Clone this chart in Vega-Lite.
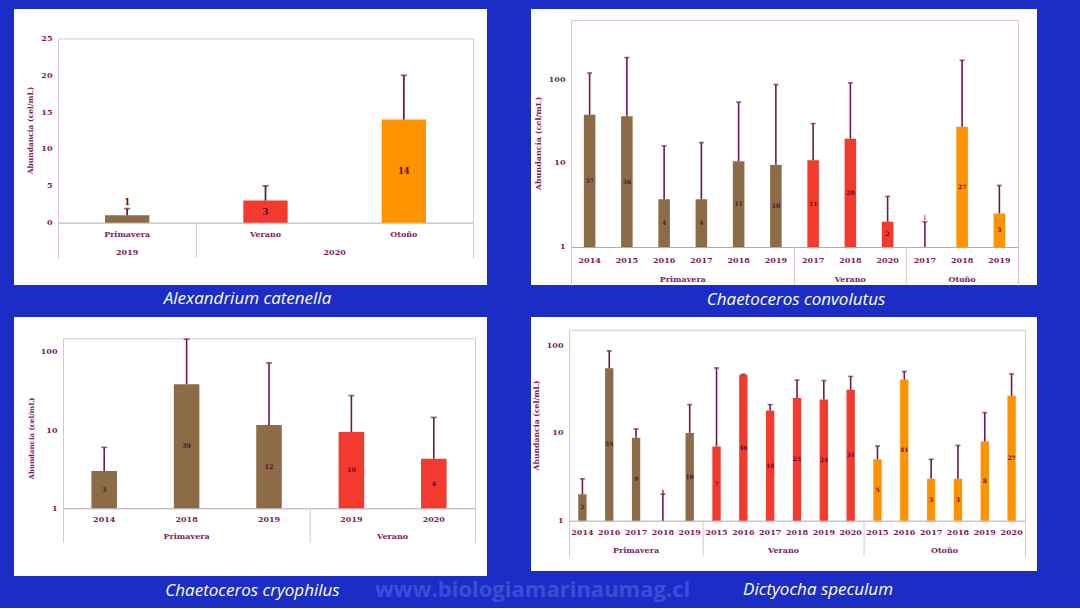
{
  "$schema": "https://vega.github.io/schema/vega-lite/v6.json",
  "background": "#1b2dc5",
  "padding": {"left": 14, "top": 9, "right": 43, "bottom": 7},
  "config": {
    "view": {"stroke": null},
    "title": {"orient": "bottom", "color": "white", "font": "Open Sans", "fontStyle": "italic", "fontWeight": "normal", "fontSize": 17, "offset": 6, "anchor": "middle"},
    "axis": {"labelFont": "DejaVu Serif", "labelFontWeight": "bold", "labelFontSize": 8, "labelColor": "#7b1b5d", "titleFont": "DejaVu Serif", "titleFontWeight": "bold", "titleFontSize": 8, "titleColor": "#7b1b5d", "ticks": false, "tickSize": 0, "grid": false, "domainColor": "#dcc3da", "domainWidth": 1, "labelPadding": 6, "titlePadding": 6}
  },
  "title": {"text": "www.biologiamarinaumag.cl", "orient": "bottom", "anchor": "start", "frame": "bounds", "dx": 361, "offset": -19, "fontSize": 22, "font": "Open Sans", "fontStyle": "normal", "fontWeight": "bold", "color": "#3650d8"},
  "datasets": {
    "a": [
      {"key": "Primavera", "season": "Primavera", "value": 1, "hi": 1.9, "label": "1"},
      {"key": "Verano", "season": "Verano", "value": 3, "hi": 5, "label": "3"},
      {"key": "Otoño", "season": "Otoño", "value": 14, "hi": 20, "label": "14"}
    ],
    "aGroups": [
      {"label": "2019", "anchor": "Primavera", "even": false},
      {"label": "2020", "anchor": "Otoño", "even": true}
    ],
    "aSep": [{"key": "Verano"}],
    "b": [
      {"key": "Primavera 2014", "season": "Primavera", "value": 37.5, "hi": 118, "label": "37"},
      {"key": "Primavera 2015", "season": "Primavera", "value": 36, "hi": 180, "label": "36"},
      {"key": "Primavera 2016", "season": "Primavera", "value": 3.7, "hi": 16, "label": "4"},
      {"key": "Primavera 2017", "season": "Primavera", "value": 3.7, "hi": 17.5, "label": "4"},
      {"key": "Primavera 2018", "season": "Primavera", "value": 10.5, "hi": 53, "label": "11"},
      {"key": "Primavera 2019", "season": "Primavera", "value": 9.5, "hi": 86, "label": "10"},
      {"key": "Verano 2017", "season": "Verano", "value": 10.8, "hi": 29.5, "label": "11"},
      {"key": "Verano 2018", "season": "Verano", "value": 19.5, "hi": 90, "label": "20"},
      {"key": "Verano 2020", "season": "Verano", "value": 2, "hi": 4, "label": "2"},
      {"key": "Otoño 2017", "season": "Otoño", "value": 1, "hi": 2, "label": "1"},
      {"key": "Otoño 2018", "season": "Otoño", "value": 27, "hi": 167, "label": "27"},
      {"key": "Otoño 2019", "season": "Otoño", "value": 2.5, "hi": 5.4, "label": "3"}
    ],
    "bGroups": [
      {"label": "Primavera", "anchor": "Primavera 2017", "even": true},
      {"label": "Verano", "anchor": "Verano 2018", "even": false},
      {"label": "Otoño", "anchor": "Otoño 2018", "even": false}
    ],
    "bSep": [{"key": "Verano 2017"}, {"key": "Otoño 2017"}],
    "c": [
      {"key": "Primavera 2014", "season": "Primavera", "value": 3, "hi": 6, "label": "3"},
      {"key": "Primavera 2018", "season": "Primavera", "value": 38.5, "hi": 145, "label": "39"},
      {"key": "Primavera 2019", "season": "Primavera", "value": 11.6, "hi": 72, "label": "12"},
      {"key": "Verano 2019", "season": "Verano", "value": 9.4, "hi": 27.5, "label": "10"},
      {"key": "Verano 2020", "season": "Verano", "value": 4.3, "hi": 14.5, "label": "4"}
    ],
    "cGroups": [
      {"label": "Primavera", "anchor": "Primavera 2018", "even": false},
      {"label": "Verano", "anchor": "Verano 2020", "even": true}
    ],
    "cSep": [{"key": "Verano 2019"}],
    "d": [
      {"key": "Primavera 2014", "season": "Primavera", "value": 2, "hi": 3, "label": "2"},
      {"key": "Primavera 2016", "season": "Primavera", "value": 54.5, "hi": 86, "label": "55"},
      {"key": "Primavera 2017", "season": "Primavera", "value": 8.8, "hi": 11.1, "label": "9"},
      {"key": "Primavera 2018", "season": "Primavera", "value": 1, "hi": 2, "label": "1"},
      {"key": "Primavera 2019", "season": "Primavera", "value": 10, "hi": 21, "label": "10"},
      {"key": "Verano 2015", "season": "Verano", "value": 7, "hi": 55, "label": "7"},
      {"key": "Verano 2016", "season": "Verano", "value": 46, "hi": 46.5, "label": "46"},
      {"key": "Verano 2017", "season": "Verano", "value": 18, "hi": 21, "label": "18"},
      {"key": "Verano 2018", "season": "Verano", "value": 25, "hi": 40, "label": "25"},
      {"key": "Verano 2019", "season": "Verano", "value": 24, "hi": 39.5, "label": "24"},
      {"key": "Verano 2020", "season": "Verano", "value": 31, "hi": 44, "label": "31"},
      {"key": "Otoño 2015", "season": "Otoño", "value": 5, "hi": 7.1, "label": "5"},
      {"key": "Otoño 2016", "season": "Otoño", "value": 40.5, "hi": 50, "label": "41"},
      {"key": "Otoño 2017", "season": "Otoño", "value": 3, "hi": 5, "label": "3"},
      {"key": "Otoño 2018", "season": "Otoño", "value": 3, "hi": 7.2, "label": "3"},
      {"key": "Otoño 2019", "season": "Otoño", "value": 8, "hi": 17, "label": "8"},
      {"key": "Otoño 2020", "season": "Otoño", "value": 26.5, "hi": 47, "label": "27"}
    ],
    "dGroups": [
      {"label": "Primavera", "anchor": "Primavera 2017", "even": false},
      {"label": "Verano", "anchor": "Verano 2018", "even": true},
      {"label": "Otoño", "anchor": "Otoño 2018", "even": true}
    ],
    "dSep": [{"key": "Verano 2015"}, {"key": "Otoño 2015"}]
  },
  "spacing": 9,
  "vconcat": [
    {
      "spacing": 44,
      "hconcat": [
        {
          "width": 473, "height": 276,
          "view": {"fill": "white", "stroke": null},
          "title": {"text": "Alexandrium catenella", "dx": -3},
          "resolve": {"scale": {"y": "independent"}, "axis": {"x": "independent", "y": "independent"}},
          "layer": [
            {
              "data": {"name": "aSep"},
              "mark": {"type": "rule", "color": "#dcc3da", "strokeWidth": 1},
              "encoding": {
                "x": {"field": "key", "type": "nominal", "bandPosition": 0, "scale": {"domain": ["Primavera", "Verano", "Otoño"], "range": [44, 459], "paddingInner": 0, "paddingOuter": 0}, "axis": {"orient": "top", "offset": -29.5, "labels": false, "title": null}},
                "y": {"datum": 0, "type": "quantitative", "scale": {"type": "linear", "domain": [-4.8, 25], "range": [249, 29.5], "zero": false, "nice": false}, "axis": {"orient": "right", "offset": -14, "labels": false, "title": null}},
                "y2": {"datum": -4.8}
              }
            },
            {
              "data": {"name": "a"},
              "mark": {"type": "bar", "width": {"band": 0.32}},
              "encoding": {
                "x": {"field": "key", "type": "nominal", "sort": null, "scale": {"domain": ["Primavera", "Verano", "Otoño"], "range": [44, 459], "paddingInner": 0, "paddingOuter": 0}, "axis": {"orient": "bottom", "offset": -62.4, "title": null, "labelAngle": 0, "labelPadding": 8, "domainColor": "#b5a3b6"}},
                "y": {"field": "value", "type": "quantitative", "scale": {"type": "linear", "domain": [-4.8, 25], "range": [249, 29.5], "zero": false, "nice": false}, "axis": {"orient": "left", "offset": -44, "values": [0, 5, 10, 15, 20, 25], "title": "Abundancia (cel/mL)", "titleFontSize": 7.5, "titleY": 121}},
                "y2": {"datum": 0},
                "color": {"field": "season", "type": "nominal", "scale": {"domain": ["Primavera", "Verano", "Otoño"], "range": ["#8c6b47", "#f23a2e", "#ff9200"]}, "legend": null}
              }
            },
            {
              "data": {"name": "a"},
              "mark": {"type": "rule", "color": "#6a1a4f", "strokeWidth": 1.8},
              "encoding": {
                "x": {"field": "key", "type": "nominal", "scale": {"domain": ["Primavera", "Verano", "Otoño"], "range": [44, 459], "paddingInner": 0, "paddingOuter": 0}, "axis": null},
                "y": {"field": "value", "type": "quantitative", "scale": {"type": "linear", "domain": [-4.8, 25], "range": [249, 29.5], "zero": false, "nice": false}, "axis": null},
                "y2": {"field": "hi"}
              }
            },
            {
              "data": {"name": "a"},
              "mark": {"type": "tick", "color": "#6a1a4f", "size": 6, "thickness": 1.8},
              "encoding": {
                "x": {"field": "key", "type": "nominal", "scale": {"domain": ["Primavera", "Verano", "Otoño"], "range": [44, 459], "paddingInner": 0, "paddingOuter": 0}, "axis": null},
                "y": {"field": "hi", "type": "quantitative", "scale": {"type": "linear", "domain": [-4.8, 25], "range": [249, 29.5], "zero": false, "nice": false}, "axis": null}
              }
            },
            {
              "data": {"name": "a"},
              "transform": [{"filter": "datum.value > 1.5"}],
              "mark": {"type": "text", "font": "DejaVu Serif", "fontWeight": "bold", "fontSize": 8.5, "color": "#5b0b2b"},
              "encoding": {
                "x": {"field": "key", "type": "nominal", "scale": {"domain": ["Primavera", "Verano", "Otoño"], "range": [44, 459], "paddingInner": 0, "paddingOuter": 0}, "axis": null},
                "y": {"field": "value", "type": "quantitative", "scale": {"type": "linear", "domain": [-9.6, 50], "range": [249, 29.5], "zero": false, "nice": false}, "axis": null},
                "text": {"field": "label"}
              }
            },
            {
              "data": {"name": "a"},
              "transform": [{"filter": "datum.value <= 1.5"}],
              "mark": {"type": "text", "font": "DejaVu Serif", "fontWeight": "bold", "fontSize": 8.5, "color": "#5b0b2b", "baseline": "bottom", "dy": -2},
              "encoding": {
                "x": {"field": "key", "type": "nominal", "scale": {"domain": ["Primavera", "Verano", "Otoño"], "range": [44, 459], "paddingInner": 0, "paddingOuter": 0}, "axis": null},
                "y": {"field": "hi", "type": "quantitative", "scale": {"type": "linear", "domain": [-4.8, 25], "range": [249, 29.5], "zero": false, "nice": false}, "axis": null},
                "text": {"field": "label"}
              }
            },
            {
              "data": {"name": "aGroups"},
              "transform": [{"filter": "!datum.even"}],
              "mark": {"type": "text", "font": "DejaVu Serif", "fontWeight": "bold", "fontSize": 8, "color": "#7b1b5d"},
              "encoding": {
                "x": {"field": "anchor", "type": "nominal", "scale": {"domain": ["Primavera", "Verano", "Otoño"], "range": [44, 459], "paddingInner": 0, "paddingOuter": 0}, "axis": null},
                "y": {"datum": -4.12, "type": "quantitative", "scale": {"type": "linear", "domain": [-4.8, 25], "range": [249, 29.5], "zero": false, "nice": false}, "axis": null},
                "text": {"field": "label"}
              }
            },
            {
              "data": {"name": "aGroups"},
              "transform": [{"filter": "datum.even"}],
              "mark": {"type": "text", "font": "DejaVu Serif", "fontWeight": "bold", "fontSize": 8, "color": "#7b1b5d"},
              "encoding": {
                "x": {"field": "anchor", "type": "nominal", "bandPosition": 0, "scale": {"domain": ["Primavera", "Verano", "Otoño"], "range": [44, 459], "paddingInner": 0, "paddingOuter": 0}, "axis": null},
                "y": {"datum": -4.12, "type": "quantitative", "scale": {"type": "linear", "domain": [-4.8, 25], "range": [249, 29.5], "zero": false, "nice": false}, "axis": null},
                "text": {"field": "label"}
              }
            }
          ]
        },
        {
          "width": 506, "height": 276,
          "view": {"fill": "white", "stroke": null},
          "title": {"text": "Chaetoceros convolutus", "dx": 12},
          "resolve": {"scale": {"y": "independent"}, "axis": {"x": "independent", "y": "independent"}},
          "layer": [
            {
              "data": {"name": "bSep"},
              "mark": {"type": "rule", "color": "#dcc3da", "strokeWidth": 1},
              "encoding": {
                "x": {"field": "key", "type": "nominal", "bandPosition": 0, "scale": {"domain": ["Primavera 2014", "Primavera 2015", "Primavera 2016", "Primavera 2017", "Primavera 2018", "Primavera 2019", "Verano 2017", "Verano 2018", "Verano 2020", "Otoño 2017", "Otoño 2018", "Otoño 2019"], "range": [40, 487], "paddingInner": 0, "paddingOuter": 0}, "axis": {"orient": "top", "offset": -11, "labels": false, "title": null}},
                "y": {"datum": 1, "type": "quantitative", "scale": {"type": "log", "domain": [0.3528, 504], "range": [276, 11], "nice": false}, "axis": {"orient": "right", "offset": -19, "labels": false, "title": null}},
                "y2": {"datum": 0.3528}
              }
            },
            {
              "data": {"name": "b"},
              "mark": {"type": "bar", "width": {"band": 0.31}},
              "encoding": {
                "x": {"field": "key", "type": "nominal", "sort": null, "scale": {"domain": ["Primavera 2014", "Primavera 2015", "Primavera 2016", "Primavera 2017", "Primavera 2018", "Primavera 2019", "Verano 2017", "Verano 2018", "Verano 2020", "Otoño 2017", "Otoño 2018", "Otoño 2019"], "range": [40, 487], "paddingInner": 0, "paddingOuter": 0}, "axis": {"orient": "bottom", "offset": -38, "title": null, "labelAngle": 0, "labelPadding": 9, "labelExpr": "split(datum.value, ' ')[1]", "domainColor": "#b5a3b6"}},
                "y": {"field": "value", "type": "quantitative", "scale": {"type": "log", "domain": [0.3528, 504], "range": [276, 11], "nice": false}, "axis": {"orient": "left", "offset": -40, "values": [1, 10, 100], "format": "d", "title": "Abundancia (cel/mL)", "titleY": 134}},
                "y2": {"datum": 1},
                "color": {"field": "season", "type": "nominal", "scale": {"domain": ["Primavera", "Verano", "Otoño"], "range": ["#8c6b47", "#f23a2e", "#ff9200"]}, "legend": null}
              }
            },
            {
              "data": {"name": "b"},
              "mark": {"type": "rule", "color": "#6a1a4f", "strokeWidth": 1.6},
              "encoding": {
                "x": {"field": "key", "type": "nominal", "scale": {"domain": ["Primavera 2014", "Primavera 2015", "Primavera 2016", "Primavera 2017", "Primavera 2018", "Primavera 2019", "Verano 2017", "Verano 2018", "Verano 2020", "Otoño 2017", "Otoño 2018", "Otoño 2019"], "range": [40, 487], "paddingInner": 0, "paddingOuter": 0}, "axis": null},
                "y": {"field": "value", "type": "quantitative", "scale": {"type": "log", "domain": [0.3528, 504], "range": [276, 11], "nice": false}, "axis": null},
                "y2": {"field": "hi"}
              }
            },
            {
              "data": {"name": "b"},
              "mark": {"type": "tick", "color": "#6a1a4f", "size": 5, "thickness": 1.6},
              "encoding": {
                "x": {"field": "key", "type": "nominal", "scale": {"domain": ["Primavera 2014", "Primavera 2015", "Primavera 2016", "Primavera 2017", "Primavera 2018", "Primavera 2019", "Verano 2017", "Verano 2018", "Verano 2020", "Otoño 2017", "Otoño 2018", "Otoño 2019"], "range": [40, 487], "paddingInner": 0, "paddingOuter": 0}, "axis": null},
                "y": {"field": "hi", "type": "quantitative", "scale": {"type": "log", "domain": [0.3528, 504], "range": [276, 11], "nice": false}, "axis": null}
              }
            },
            {
              "data": {"name": "b"},
              "transform": [{"filter": "datum.value > 1.5"}],
              "mark": {"type": "text", "font": "DejaVu Serif", "fontWeight": "bold", "fontSize": 6, "color": "#5b0b2b"},
              "encoding": {
                "x": {"field": "key", "type": "nominal", "scale": {"domain": ["Primavera 2014", "Primavera 2015", "Primavera 2016", "Primavera 2017", "Primavera 2018", "Primavera 2019", "Verano 2017", "Verano 2018", "Verano 2020", "Otoño 2017", "Otoño 2018", "Otoño 2019"], "range": [40, 487], "paddingInner": 0, "paddingOuter": 0}, "axis": null},
                "y": {"field": "value", "type": "quantitative", "scale": {"type": "log", "domain": [0.1245, 254016], "range": [276, 11], "nice": false}, "axis": null},
                "text": {"field": "label"}
              }
            },
            {
              "data": {"name": "b"},
              "transform": [{"filter": "datum.value <= 1.5"}],
              "mark": {"type": "text", "font": "DejaVu Serif", "fontSize": 6.5, "color": "#5b0b2b", "baseline": "bottom", "dy": -1},
              "encoding": {
                "x": {"field": "key", "type": "nominal", "scale": {"domain": ["Primavera 2014", "Primavera 2015", "Primavera 2016", "Primavera 2017", "Primavera 2018", "Primavera 2019", "Verano 2017", "Verano 2018", "Verano 2020", "Otoño 2017", "Otoño 2018", "Otoño 2019"], "range": [40, 487], "paddingInner": 0, "paddingOuter": 0}, "axis": null},
                "y": {"field": "hi", "type": "quantitative", "scale": {"type": "log", "domain": [0.3528, 504], "range": [276, 11], "nice": false}, "axis": null},
                "text": {"field": "label"}
              }
            },
            {
              "data": {"name": "bGroups"},
              "transform": [{"filter": "!datum.even"}],
              "mark": {"type": "text", "font": "DejaVu Serif", "fontWeight": "bold", "fontSize": 8, "color": "#7b1b5d"},
              "encoding": {
                "x": {"field": "anchor", "type": "nominal", "scale": {"domain": ["Primavera 2014", "Primavera 2015", "Primavera 2016", "Primavera 2017", "Primavera 2018", "Primavera 2019", "Verano 2017", "Verano 2018", "Verano 2020", "Otoño 2017", "Otoño 2018", "Otoño 2019"], "range": [40, 487], "paddingInner": 0, "paddingOuter": 0}, "axis": null},
                "y": {"datum": 0.405, "type": "quantitative", "scale": {"type": "log", "domain": [0.3528, 504], "range": [276, 11], "nice": false}, "axis": null},
                "text": {"field": "label"}
              }
            },
            {
              "data": {"name": "bGroups"},
              "transform": [{"filter": "datum.even"}],
              "mark": {"type": "text", "font": "DejaVu Serif", "fontWeight": "bold", "fontSize": 8, "color": "#7b1b5d"},
              "encoding": {
                "x": {"field": "anchor", "type": "nominal", "bandPosition": 0, "scale": {"domain": ["Primavera 2014", "Primavera 2015", "Primavera 2016", "Primavera 2017", "Primavera 2018", "Primavera 2019", "Verano 2017", "Verano 2018", "Verano 2020", "Otoño 2017", "Otoño 2018", "Otoño 2019"], "range": [40, 487], "paddingInner": 0, "paddingOuter": 0}, "axis": null},
                "y": {"datum": 0.405, "type": "quantitative", "scale": {"type": "log", "domain": [0.3528, 504], "range": [276, 11], "nice": false}, "axis": null},
                "text": {"field": "label"}
              }
            }
          ]
        }
      ]
    },
    {
      "spacing": 44,
      "hconcat": [
        {
          "width": 473, "height": 259,
          "view": {"fill": "white", "stroke": null},
          "title": {"text": "Chaetoceros cryophilus", "dx": 2, "offset": 6.5},
          "resolve": {"scale": {"y": "independent"}, "axis": {"x": "independent", "y": "independent"}},
          "layer": [
            {
              "data": {"name": "cSep"},
              "mark": {"type": "rule", "color": "#dcc3da", "strokeWidth": 1},
              "encoding": {
                "x": {"field": "key", "type": "nominal", "bandPosition": 0, "scale": {"domain": ["Primavera 2014", "Primavera 2018", "Primavera 2019", "Verano 2019", "Verano 2020"], "range": [49, 461], "paddingInner": 0, "paddingOuter": 0}, "axis": {"orient": "top", "offset": -21.3, "labels": false, "title": null}},
                "y": {"datum": 1, "type": "quantitative", "scale": {"type": "log", "domain": [0.368, 148.3], "range": [225.3, 21.3], "nice": false}, "axis": {"orient": "right", "offset": -12, "labels": false, "title": null}},
                "y2": {"datum": 0.368}
              }
            },
            {
              "data": {"name": "c"},
              "mark": {"type": "bar", "width": {"band": 0.31}},
              "encoding": {
                "x": {"field": "key", "type": "nominal", "sort": null, "scale": {"domain": ["Primavera 2014", "Primavera 2018", "Primavera 2019", "Verano 2019", "Verano 2020"], "range": [49, 461], "paddingInner": 0, "paddingOuter": 0}, "axis": {"orient": "bottom", "offset": -67.7, "title": null, "labelAngle": 0, "labelPadding": 7, "labelExpr": "split(datum.value, ' ')[1]", "domainColor": "#b5a3b6"}},
                "y": {"field": "value", "type": "quantitative", "scale": {"type": "log", "domain": [0.368, 148.3], "range": [225.3, 21.3], "nice": false}, "axis": {"orient": "left", "offset": -49, "values": [1, 10, 100], "format": "d", "title": "Abundancia (cel/mL)", "titleFontSize": 7, "titleY": 121}},
                "y2": {"datum": 1},
                "color": {"field": "season", "type": "nominal", "scale": {"domain": ["Primavera", "Verano", "Otoño"], "range": ["#8c6b47", "#f23a2e", "#ff9200"]}, "legend": null}
              }
            },
            {
              "data": {"name": "c"},
              "mark": {"type": "rule", "color": "#6a1a4f", "strokeWidth": 1.6},
              "encoding": {
                "x": {"field": "key", "type": "nominal", "scale": {"domain": ["Primavera 2014", "Primavera 2018", "Primavera 2019", "Verano 2019", "Verano 2020"], "range": [49, 461], "paddingInner": 0, "paddingOuter": 0}, "axis": null},
                "y": {"field": "value", "type": "quantitative", "scale": {"type": "log", "domain": [0.368, 148.3], "range": [225.3, 21.3], "nice": false}, "axis": null},
                "y2": {"field": "hi"}
              }
            },
            {
              "data": {"name": "c"},
              "mark": {"type": "tick", "color": "#6a1a4f", "size": 6, "thickness": 1.6},
              "encoding": {
                "x": {"field": "key", "type": "nominal", "scale": {"domain": ["Primavera 2014", "Primavera 2018", "Primavera 2019", "Verano 2019", "Verano 2020"], "range": [49, 461], "paddingInner": 0, "paddingOuter": 0}, "axis": null},
                "y": {"field": "hi", "type": "quantitative", "scale": {"type": "log", "domain": [0.368, 148.3], "range": [225.3, 21.3], "nice": false}, "axis": null}
              }
            },
            {
              "data": {"name": "c"},
              "mark": {"type": "text", "font": "DejaVu Serif", "fontWeight": "bold", "fontSize": 6.5, "color": "#5b0b2b"},
              "encoding": {
                "x": {"field": "key", "type": "nominal", "scale": {"domain": ["Primavera 2014", "Primavera 2018", "Primavera 2019", "Verano 2019", "Verano 2020"], "range": [49, 461], "paddingInner": 0, "paddingOuter": 0}, "axis": null},
                "y": {"field": "value", "type": "quantitative", "scale": {"type": "log", "domain": [0.1354, 21993], "range": [225.3, 21.3], "nice": false}, "axis": null},
                "text": {"field": "label"}
              }
            },
            {
              "data": {"name": "cGroups"},
              "transform": [{"filter": "!datum.even"}],
              "mark": {"type": "text", "font": "DejaVu Serif", "fontWeight": "bold", "fontSize": 8, "color": "#7b1b5d"},
              "encoding": {
                "x": {"field": "anchor", "type": "nominal", "scale": {"domain": ["Primavera 2014", "Primavera 2018", "Primavera 2019", "Verano 2019", "Verano 2020"], "range": [49, 461], "paddingInner": 0, "paddingOuter": 0}, "axis": null},
                "y": {"datum": 0.426, "type": "quantitative", "scale": {"type": "log", "domain": [0.368, 148.3], "range": [225.3, 21.3], "nice": false}, "axis": null},
                "text": {"field": "label"}
              }
            },
            {
              "data": {"name": "cGroups"},
              "transform": [{"filter": "datum.even"}],
              "mark": {"type": "text", "font": "DejaVu Serif", "fontWeight": "bold", "fontSize": 8, "color": "#7b1b5d"},
              "encoding": {
                "x": {"field": "anchor", "type": "nominal", "bandPosition": 0, "scale": {"domain": ["Primavera 2014", "Primavera 2018", "Primavera 2019", "Verano 2019", "Verano 2020"], "range": [49, 461], "paddingInner": 0, "paddingOuter": 0}, "axis": null},
                "y": {"datum": 0.426, "type": "quantitative", "scale": {"type": "log", "domain": [0.368, 148.3], "range": [225.3, 21.3], "nice": false}, "axis": null},
                "text": {"field": "label"}
              }
            }
          ]
        },
        {
          "width": 506, "height": 254,
          "view": {"fill": "white", "stroke": null},
          "title": {"text": "Dictyocha speculum", "dx": 34, "offset": 10.5},
          "resolve": {"scale": {"y": "independent"}, "axis": {"x": "independent", "y": "independent"}},
          "layer": [
            {
              "data": {"name": "dSep"},
              "mark": {"type": "rule", "color": "#dcc3da", "strokeWidth": 1},
              "encoding": {
                "x": {"field": "key", "type": "nominal", "bandPosition": 0, "scale": {"domain": ["Primavera 2014", "Primavera 2016", "Primavera 2017", "Primavera 2018", "Primavera 2019", "Verano 2015", "Verano 2016", "Verano 2017", "Verano 2018", "Verano 2019", "Verano 2020", "Otoño 2015", "Otoño 2016", "Otoño 2017", "Otoño 2018", "Otoño 2019", "Otoño 2020"], "range": [38, 494], "paddingInner": 0, "paddingOuter": 0}, "axis": {"orient": "top", "offset": -12.7, "labels": false, "title": null}},
                "y": {"datum": 1, "type": "quantitative", "scale": {"type": "log", "domain": [0.393, 149.8], "range": [239.3, 12.7], "nice": false}, "axis": {"orient": "right", "offset": -12, "labels": false, "title": null}},
                "y2": {"datum": 0.393}
              }
            },
            {
              "data": {"name": "d"},
              "mark": {"type": "bar", "width": {"band": 0.31}},
              "encoding": {
                "x": {"field": "key", "type": "nominal", "sort": null, "scale": {"domain": ["Primavera 2014", "Primavera 2016", "Primavera 2017", "Primavera 2018", "Primavera 2019", "Verano 2015", "Verano 2016", "Verano 2017", "Verano 2018", "Verano 2019", "Verano 2020", "Otoño 2015", "Otoño 2016", "Otoño 2017", "Otoño 2018", "Otoño 2019", "Otoño 2020"], "range": [38, 494], "paddingInner": 0, "paddingOuter": 0}, "axis": {"orient": "bottom", "offset": -50.3, "title": null, "labelAngle": 0, "labelPadding": 7.5, "labelExpr": "split(datum.value, ' ')[1]", "domainColor": "#b5a3b6"}},
                "y": {"field": "value", "type": "quantitative", "scale": {"type": "log", "domain": [0.393, 149.8], "range": [239.3, 12.7], "nice": false}, "axis": {"orient": "left", "offset": -38, "values": [1, 10, 100], "format": "d", "title": "Abundancia (cel/mL)", "titleFontSize": 7.7, "titleY": 108}},
                "y2": {"datum": 1},
                "color": {"field": "season", "type": "nominal", "scale": {"domain": ["Primavera", "Verano", "Otoño"], "range": ["#8c6b47", "#f23a2e", "#ff9200"]}, "legend": null}
              }
            },
            {
              "data": {"name": "d"},
              "mark": {"type": "rule", "color": "#6a1a4f", "strokeWidth": 1.6},
              "encoding": {
                "x": {"field": "key", "type": "nominal", "scale": {"domain": ["Primavera 2014", "Primavera 2016", "Primavera 2017", "Primavera 2018", "Primavera 2019", "Verano 2015", "Verano 2016", "Verano 2017", "Verano 2018", "Verano 2019", "Verano 2020", "Otoño 2015", "Otoño 2016", "Otoño 2017", "Otoño 2018", "Otoño 2019", "Otoño 2020"], "range": [38, 494], "paddingInner": 0, "paddingOuter": 0}, "axis": null},
                "y": {"field": "value", "type": "quantitative", "scale": {"type": "log", "domain": [0.393, 149.8], "range": [239.3, 12.7], "nice": false}, "axis": null},
                "y2": {"field": "hi"}
              }
            },
            {
              "data": {"name": "d"},
              "mark": {"type": "tick", "color": "#6a1a4f", "size": 5, "thickness": 1.6},
              "encoding": {
                "x": {"field": "key", "type": "nominal", "scale": {"domain": ["Primavera 2014", "Primavera 2016", "Primavera 2017", "Primavera 2018", "Primavera 2019", "Verano 2015", "Verano 2016", "Verano 2017", "Verano 2018", "Verano 2019", "Verano 2020", "Otoño 2015", "Otoño 2016", "Otoño 2017", "Otoño 2018", "Otoño 2019", "Otoño 2020"], "range": [38, 494], "paddingInner": 0, "paddingOuter": 0}, "axis": null},
                "y": {"field": "hi", "type": "quantitative", "scale": {"type": "log", "domain": [0.393, 149.8], "range": [239.3, 12.7], "nice": false}, "axis": null}
              }
            },
            {
              "data": {"name": "d"},
              "transform": [{"filter": "datum.value > 1.5"}],
              "mark": {"type": "text", "font": "DejaVu Serif", "fontWeight": "bold", "fontSize": 6, "color": "#5b0b2b"},
              "encoding": {
                "x": {"field": "key", "type": "nominal", "scale": {"domain": ["Primavera 2014", "Primavera 2016", "Primavera 2017", "Primavera 2018", "Primavera 2019", "Verano 2015", "Verano 2016", "Verano 2017", "Verano 2018", "Verano 2019", "Verano 2020", "Otoño 2015", "Otoño 2016", "Otoño 2017", "Otoño 2018", "Otoño 2019", "Otoño 2020"], "range": [38, 494], "paddingInner": 0, "paddingOuter": 0}, "axis": null},
                "y": {"field": "value", "type": "quantitative", "scale": {"type": "log", "domain": [0.1544, 22440], "range": [239.3, 12.7], "nice": false}, "axis": null},
                "text": {"field": "label"}
              }
            },
            {
              "data": {"name": "d"},
              "transform": [{"filter": "datum.value <= 1.5"}],
              "mark": {"type": "text", "font": "DejaVu Serif", "fontWeight": "bold", "fontSize": 5.5, "color": "#5b0b2b", "baseline": "bottom", "dy": 1},
              "encoding": {
                "x": {"field": "key", "type": "nominal", "scale": {"domain": ["Primavera 2014", "Primavera 2016", "Primavera 2017", "Primavera 2018", "Primavera 2019", "Verano 2015", "Verano 2016", "Verano 2017", "Verano 2018", "Verano 2019", "Verano 2020", "Otoño 2015", "Otoño 2016", "Otoño 2017", "Otoño 2018", "Otoño 2019", "Otoño 2020"], "range": [38, 494], "paddingInner": 0, "paddingOuter": 0}, "axis": null},
                "y": {"field": "hi", "type": "quantitative", "scale": {"type": "log", "domain": [0.393, 149.8], "range": [239.3, 12.7], "nice": false}, "axis": null},
                "text": {"field": "label"}
              }
            },
            {
              "data": {"name": "dGroups"},
              "transform": [{"filter": "!datum.even"}],
              "mark": {"type": "text", "font": "DejaVu Serif", "fontWeight": "bold", "fontSize": 8, "color": "#7b1b5d"},
              "encoding": {
                "x": {"field": "anchor", "type": "nominal", "scale": {"domain": ["Primavera 2014", "Primavera 2016", "Primavera 2017", "Primavera 2018", "Primavera 2019", "Verano 2015", "Verano 2016", "Verano 2017", "Verano 2018", "Verano 2019", "Verano 2020", "Otoño 2015", "Otoño 2016", "Otoño 2017", "Otoño 2018", "Otoño 2019", "Otoño 2020"], "range": [38, 494], "paddingInner": 0, "paddingOuter": 0}, "axis": null},
                "y": {"datum": 0.455, "type": "quantitative", "scale": {"type": "log", "domain": [0.393, 149.8], "range": [239.3, 12.7], "nice": false}, "axis": null},
                "text": {"field": "label"}
              }
            },
            {
              "data": {"name": "dGroups"},
              "transform": [{"filter": "datum.even"}],
              "mark": {"type": "text", "font": "DejaVu Serif", "fontWeight": "bold", "fontSize": 8, "color": "#7b1b5d"},
              "encoding": {
                "x": {"field": "anchor", "type": "nominal", "bandPosition": 0, "scale": {"domain": ["Primavera 2014", "Primavera 2016", "Primavera 2017", "Primavera 2018", "Primavera 2019", "Verano 2015", "Verano 2016", "Verano 2017", "Verano 2018", "Verano 2019", "Verano 2020", "Otoño 2015", "Otoño 2016", "Otoño 2017", "Otoño 2018", "Otoño 2019", "Otoño 2020"], "range": [38, 494], "paddingInner": 0, "paddingOuter": 0}, "axis": null},
                "y": {"datum": 0.455, "type": "quantitative", "scale": {"type": "log", "domain": [0.393, 149.8], "range": [239.3, 12.7], "nice": false}, "axis": null},
                "text": {"field": "label"}
              }
            }
          ]
        }
      ]
    }
  ]
}
